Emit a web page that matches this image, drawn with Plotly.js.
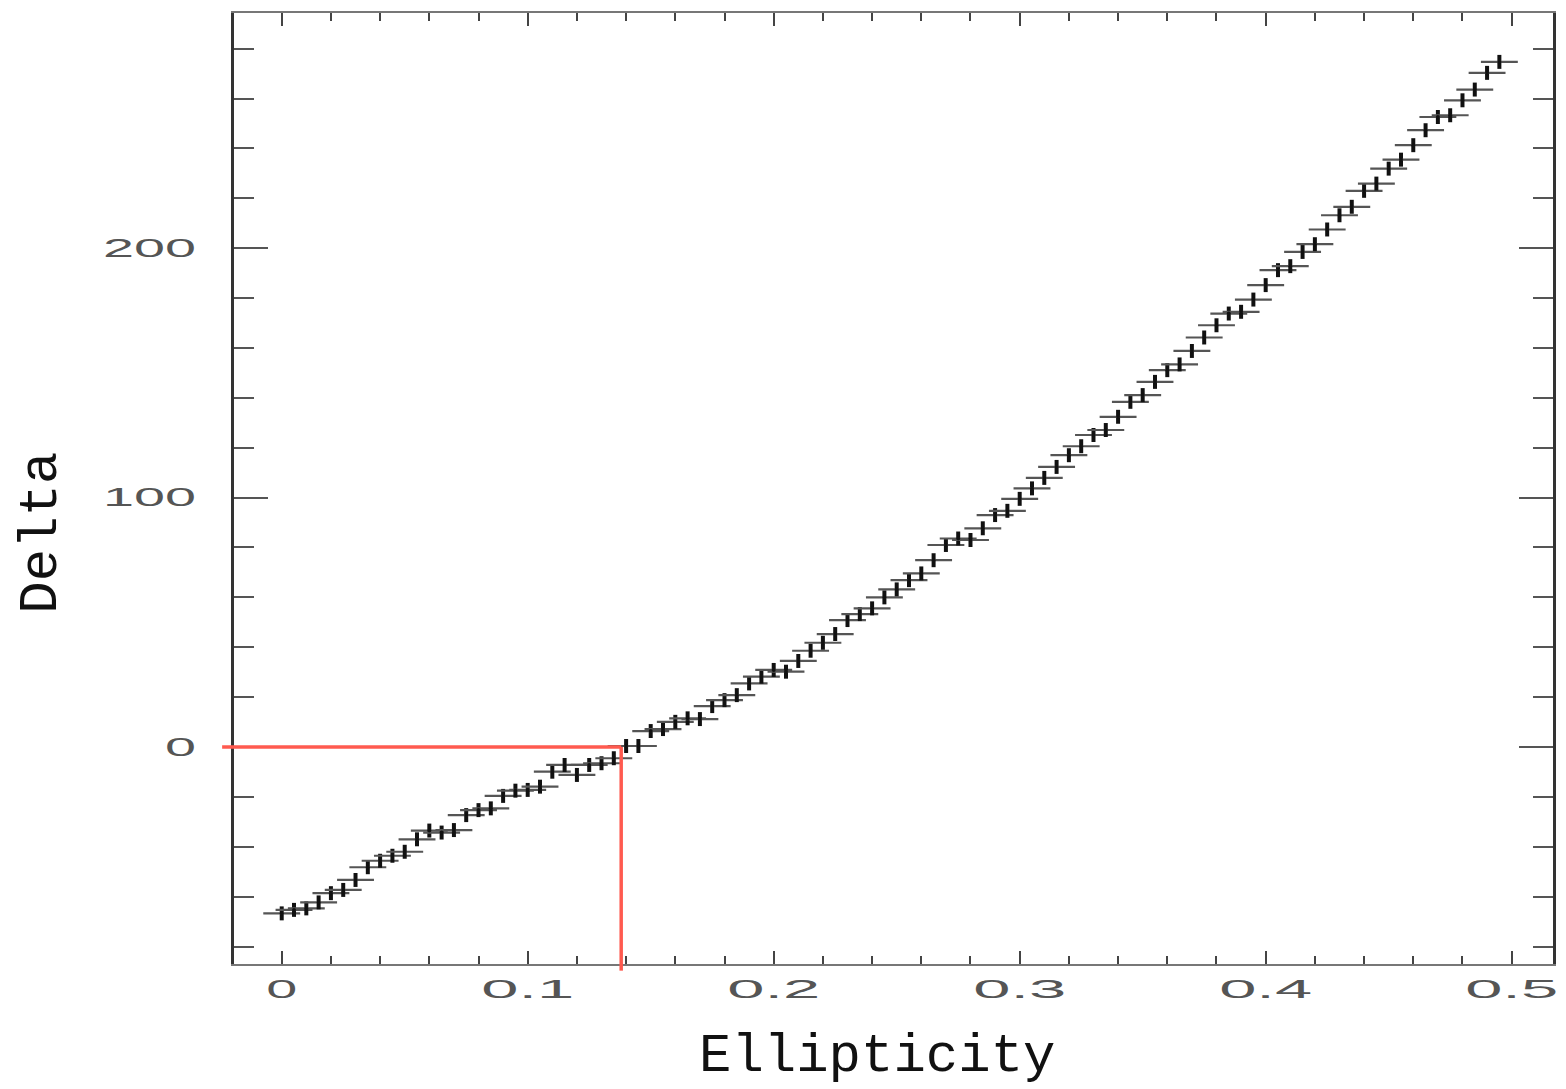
<!DOCTYPE html>
<html>
<head>
<meta charset="utf-8">
<script src="https://cdn.plot.ly/plotly-3.0.1.min.js"></script>
<style>
  html, body { margin: 0; padding: 0; background: #ffffff; }
  #chart { width: 1566px; height: 1089px; }
</style>
</head>
<body>
<div id="chart"></div>
<script>
// Measured Delta versus ellipticity, one point per 0.005 bin
const ellipticity = [
  0, 0.005, 0.01, 0.015, 0.02, 0.025, 0.03, 0.035, 0.04, 0.045,
  0.05, 0.055, 0.06, 0.065, 0.07, 0.075, 0.08, 0.085, 0.09, 0.095,
  0.1, 0.105, 0.11, 0.115, 0.12, 0.125, 0.13, 0.135, 0.14, 0.145,
  0.15, 0.155, 0.16, 0.165, 0.17, 0.175, 0.18, 0.185, 0.19, 0.195,
  0.2, 0.205, 0.21, 0.215, 0.22, 0.225, 0.23, 0.235, 0.24, 0.245,
  0.25, 0.255, 0.26, 0.265, 0.27, 0.275, 0.28, 0.285, 0.29, 0.295,
  0.3, 0.305, 0.31, 0.315, 0.32, 0.325, 0.33, 0.335, 0.34, 0.345,
  0.35, 0.355, 0.36, 0.365, 0.37, 0.375, 0.38, 0.385, 0.39, 0.395,
  0.4, 0.405, 0.41, 0.415, 0.42, 0.425, 0.43, 0.435, 0.44, 0.445,
  0.45, 0.455, 0.46, 0.465, 0.47, 0.475, 0.48, 0.485, 0.49, 0.495
];

const delta = [
  -66.7, -65.3, -64.7, -62.3, -58.6, -57.3, -53.3, -48.2, -45.6, -43.6,
  -42.0, -37.0, -33.5, -34.3, -33.3, -27.3, -25.3, -24.6, -19.6, -17.5,
  -17.2, -15.9, -9.9, -7.2, -11.2, -7.2, -6.5, -4.5, 0.4, 0.4,
  6.4, 7.2, 10.1, 11.5, 11.2, 16.4, 18.8, 20.8, 25.5, 28.2,
  30.9, 30.2, 34.5, 38.6, 41.8, 45.3, 50.9, 53.3, 55.6, 60.0,
  63.2, 66.9, 69.6, 74.9, 81.0, 83.6, 83.0, 87.7, 93.0, 94.7,
  99.5, 103.7, 107.9, 112.3, 117.0, 120.6, 125.1, 127.1, 132.4, 138.4,
  141.1, 146.4, 151.1, 153.4, 158.8, 164.2, 169.1, 173.8, 174.5, 179.4,
  185.2, 191.2, 192.8, 198.5, 201.6, 207.5, 213.2, 216.6, 223.0, 225.9,
  231.9, 235.5, 241.3, 247.3, 252.6, 253.3, 259.3, 263.6, 270.3, 274.7
];

// Half-widths of the error crosses
const ellipticityError = 0.0075;
const deltaError = 2.8;

// Point where Delta crosses zero
const crossingEllipticity = 0.138;
const crossingDelta = 0;

const xRange = [-0.0194, 0.5168];
const yRange = [-87.0, 294.3];

// paper-space fractions of the crossing point, so the guide lines can run past the frame
const crossXPaper = (crossingEllipticity - xRange[0]) / (xRange[1] - xRange[0]);
const crossYPaper = (crossingDelta - yRange[0]) / (yRange[1] - yRange[0]);

const trace = {
  type: 'scatter',
  mode: 'markers',
  x: ellipticity,
  y: delta,
  marker: { size: 4, color: '#111111' },
  error_x: {
    type: 'constant', value: ellipticityError,
    thickness: 2.2, width: 0, color: '#555555'
  },
  error_y: {
    type: 'constant', value: deltaError,
    thickness: 4, width: 0, color: '#111111'
  },
  hoverinfo: 'x+y',
  showlegend: false
};

const tickFont = { family: 'Liberation Sans, Arial, sans-serif', size: 25, color: '#555555' };
const titleFont = { family: 'Liberation Mono, Courier New, monospace', size: 54, color: '#111111' };
const guideColor = '#ff5a4f';

const layout = {
  width: 1566,
  height: 1089,
  margin: { l: 234, r: 13, t: 13, b: 125, pad: 0 },
  paper_bgcolor: '#ffffff',
  plot_bgcolor: '#ffffff',
  showlegend: false,
  xaxis: {
    range: xRange,
    tick0: 0, dtick: 0.1,
    ticks: 'inside', ticklen: 13, tickwidth: 2, tickcolor: '#444444',
    minor: { dtick: 0.02, tick0: 0, ticks: 'inside', ticklen: 8, tickwidth: 2, tickcolor: '#444444' },
    showline: true, linecolor: '#777777', linewidth: 2, mirror: 'ticks',
    showgrid: false, zeroline: false,
    tickfont: tickFont,
    ticklabelstandoff: 2
  },
  yaxis: {
    range: yRange,
    tick0: 0, dtick: 100,
    ticks: 'inside', ticklen: 34, tickwidth: 2, tickcolor: '#555555',
    minor: { dtick: 20, tick0: 0, ticks: 'inside', ticklen: 20, tickwidth: 2, tickcolor: '#555555' },
    showline: true, linecolor: '#333333', linewidth: 3, mirror: 'ticks',
    showgrid: false, zeroline: false,
    tickfont: tickFont,
    ticklabelstandoff: 30
  },
  shapes: [
    {
      type: 'line', layer: 'above',
      xref: 'paper', yref: 'y',
      x0: -0.009, x1: crossXPaper,
      y0: crossingDelta, y1: crossingDelta,
      line: { color: guideColor, width: 3.5 }
    },
    {
      type: 'line', layer: 'above',
      xref: 'x', yref: 'paper',
      x0: crossingEllipticity, x1: crossingEllipticity,
      y0: -0.007, y1: crossYPaper,
      line: { color: guideColor, width: 3.5 }
    }
  ],
  annotations: [
    {
      text: 'Ellipticity', xref: 'paper', yref: 'paper',
      x: 0.4875, y: -0.097, xanchor: 'center', yanchor: 'middle',
      showarrow: false, font: titleFont
    },
    {
      text: 'Delta', xref: 'paper', yref: 'paper',
      x: -0.146, y: 0.454, xanchor: 'center', yanchor: 'middle',
      textangle: -90, showarrow: false, font: titleFont
    }
  ]
};

// Tick labels are drawn in a wide, extended lettering
function widenTickLabels(gd) {
  const perChar = 31;
  gd.querySelectorAll('g.xtick text, g.ytick text').forEach(function (t) {
    const n = (t.textContent || '').length;
    if (!n) return;
    t.setAttribute('textLength', String(n * perChar));
    t.setAttribute('lengthAdjust', 'spacingAndGlyphs');
  });
}

const gd = document.getElementById('chart');
Plotly.newPlot(gd, [trace], layout, { displayModeBar: false, staticPlot: true }).then(function () {
  widenTickLabels(gd);
  gd.on('plotly_afterplot', function () { widenTickLabels(gd); });
});
</script>
</body>
</html>
